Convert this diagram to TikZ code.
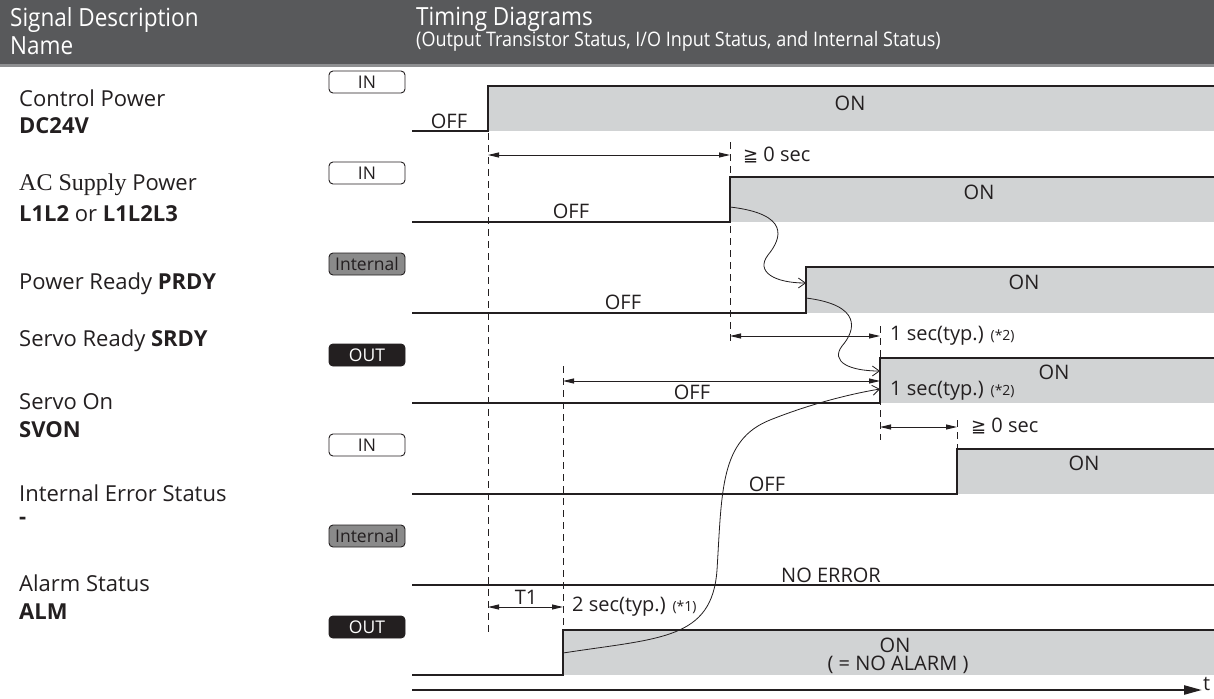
\documentclass[tikz,border=0pt]{standalone}
\usepackage{fontspec}
\setmainfont{Open Sans}
\newfontfamily\seriffam{Liberation Serif}
\newfontfamily\condfam[FakeStretch=0.9]{Open Sans}
\newfontfamily\symfam{DejaVu Sans}
\usetikzlibrary{arrows.meta}
\definecolor{hdr}{HTML}{58595B}
\definecolor{hdrline}{HTML}{8E8F91}
\definecolor{shadec}{HTML}{D1D3D4}
\definecolor{ink}{HTML}{231F20}
\definecolor{tagg}{HTML}{8A8A8A}
\begin{document}
\begin{tikzpicture}[x=1pt,y=-1pt,
  trace/.style={draw=ink,line width=2.6pt,line join=miter},
  onfill/.style={fill=shadec},
  guide/.style={draw=ink,line width=0.9pt,dash pattern=on 7pt off 5pt},
  dim/.style={draw=ink,line width=1pt,{Triangle[length=11pt,width=5pt]}-{Triangle[length=11pt,width=5pt]}},
  cause/.style={draw=ink,line width=0.8pt,-{Straight Barb[length=7pt,width=10pt]}},
  tagbase/.style={rounded corners=4pt,minimum width=76pt,minimum height=22pt,inner sep=0pt,line width=0.9pt,font=\fontsize{17.5}{18}\selectfont},
  tagin/.style={tagbase,draw=ink,fill=white,text=ink},
  tagint/.style={tagbase,draw=ink,fill=tagg,text=ink},
  tagout/.style={tagbase,draw=ink,fill=ink,text=white},
  lbl/.style={anchor=west,inner sep=0pt,text=ink,font=\fontsize{22}{24}\selectfont},
  hdrtxt/.style={anchor=west,inner sep=0pt,text=white},
  state/.style={inner sep=0pt,text=ink,font=\fontsize{20}{21}\selectfont},
  note/.style={anchor=west,inner sep=0pt,text=ink,font=\fontsize{20}{21}\selectfont}]
\useasboundingbox (0,0) rectangle (1214,698);
\fill[white] (0,0) rectangle (1214,698);
% header
\fill[hdr] (0,0) rectangle (1214,64);
\fill[hdrline] (0,64) rectangle (1214,67);
\node[hdrtxt,font=\condfam\fontsize{25}{26}\selectfont] (h1) at (10,20) {Signal Description};
\node[hdrtxt,font=\condfam\fontsize{25}{26}\selectfont] (h2) at (10,46) {Name};
\node[hdrtxt,font=\condfam\fontsize{25}{26}\selectfont] (h3) at (416,19) {Timing Diagrams};
\node[hdrtxt,font=\condfam\fontsize{20}{21}\selectfont] (h4) at (416,41) {(Output Transistor Status, I/O Input Status, and Internal Status)};
% left labels
\node[lbl] (l1) at (19,98) {Control Power};
\node[lbl] (l2) at (19,126) {\bfseries DC24V};
\node[lbl] (l3) at (19,185) {{\seriffam\fontsize{24}{26}\selectfont AC Supply} Power};
\node[lbl] (l4) at (19,214) {\bfseries L1L2 \mdseries or \bfseries L1L2L3};
\node[lbl] (l5) at (19,284) {Power Ready \bfseries PRDY};
\node[lbl] (l6) at (19,341) {Servo Ready \bfseries SRDY};
\node[lbl] (l7) at (19,402) {Servo On};
\node[lbl] (l8) at (19,430) {\bfseries SVON};
\node[lbl] (l9) at (19,493) {Internal Error Status};
\node[lbl] (l10) at (19,521) {\bfseries -};
\node[lbl] (l11) at (19,583) {Alarm Status};
\node[lbl] (l12) at (19,612) {\bfseries ALM};
% tags
\node[tagin] (t1) at (367,82) {IN};
\node[tagin] (t2) at (367,173) {IN};
\node[tagint] (t3) at (367,264) {Internal};
\node[tagout] (t4) at (367,355) {OUT};
\node[tagin] (t5) at (367,445) {IN};
\node[tagint] (t6) at (367,536) {Internal};
\node[tagout] (t7) at (367,627) {OUT};
% shaded ON regions
\fill[onfill] (488,86) rectangle (1214,131);
\fill[onfill] (730,177) rectangle (1214,222);
\fill[onfill] (806,267) rectangle (1214,313);
\fill[onfill] (880,358) rectangle (1214,403);
\fill[onfill] (957,449) rectangle (1214,494);
\fill[onfill] (563,630) rectangle (1214,675);
% guide lines
\draw[guide] (488,133) -- (488,632);
\draw[guide] (730,142) -- (730,345);
\draw[guide] (563,366) -- (563,630);
\draw[guide] (880,326) -- (880,440);
\draw[guide] (957,420) -- (957,449);
% traces
\draw[trace] (412,131) -- (488,131) -- (488,86) -- (1214,86);
\draw[trace] (412,222) -- (730,222) -- (730,177) -- (1214,177);
\draw[trace] (412,313) -- (806,313) -- (806,267) -- (1214,267);
\draw[trace] (412,403) -- (880,403) -- (880,358) -- (1214,358);
\draw[trace] (412,494) -- (957,494) -- (957,449) -- (1214,449);
\draw[trace] (412,585) -- (1214,585);
\draw[trace] (412,675) -- (563,675) -- (563,630) -- (1214,630);
% state labels
\node[state] (s1) at (449,121) {OFF};
\node[state] (s2) at (850,103) {ON};
\node[state] (s3) at (571,211) {OFF};
\node[state] (s4) at (979,192) {ON};
\node[state] (s5) at (623,302) {OFF};
\node[state] (s6) at (1024,282) {ON};
\node[state] (s7) at (692,392) {OFF};
\node[state] (s8) at (1054,372) {ON};
\node[state] (s9) at (767,484) {OFF};
\node[state] (s10) at (1084,463) {ON};
\node[state] (s11) at (831,575) {NO ERROR};
\node[state] (s12) at (895,645) {ON};
\node[state] (s13) at (898,665) {( = NO ALARM )};
% dimension coordinates
\coordinate (a1) at (488,155); \coordinate (a2) at (730,155);
\coordinate (b1) at (730,336); \coordinate (b2) at (880,336);
\coordinate (c1) at (563,381); \coordinate (c2) at (880,381);
\coordinate (d1) at (880,427); \coordinate (d2) at (957,427);
\coordinate (e1) at (488,607); \coordinate (e2) at (563,607);
\draw[dim] (a1) -- (a2);
\draw[dim] (b1) -- (b2);
\draw[dim] (c1) -- (c2);
\draw[dim] (d1) -- (d2);
\draw[dim] (e1) -- (e2);
\node[note] (n1) at (743,155) {{\symfam\fontsize{18}{19}\selectfont ≧} 0 sec};
\node[note] (n2) at (890,336) {1 sec(typ.) {\fontsize{14}{15}\selectfont (*2)}};
\node[note] (n3) at (890,391) {1 sec(typ.) {\fontsize{14}{15}\selectfont (*2)}};
\node[note] (n4) at (971,426) {{\symfam\fontsize{18}{19}\selectfont ≧} 0 sec};
\node[state,anchor=south] (n5) at (526,605) {T1};
\node[note] (n6) at (572,607) {2 sec(typ.) {\fontsize{14}{15}\selectfont (*1)}};
% causal curves
\coordinate (ca1) at (730,207); \coordinate (ca2) at (806,283);
\coordinate (cb1) at (806,298); \coordinate (cb2) at (880,371);
\coordinate (cd1) at (563,653); \coordinate (cd2) at (880,389);
\draw[cause] (ca1) .. controls (790,214) and (782,238) .. (768,255) .. controls (755,272) and (775,283) .. (ca2);
\draw[cause] (cb1) .. controls (862,305) and (856,330) .. (842,346) .. controls (830,362) and (850,371) .. (cb2);
\draw[cause] (cd1) .. controls (660,638) and (712,640) .. (717,570) .. controls (722,490) and (720,440) .. (770,420) .. controls (810,404) and (850,394) .. (cd2);
% time axis
\coordinate (ax1) at (412,690); \coordinate (ax2) at (1202,690);
\draw[draw=ink,line width=2.4pt,-{Triangle[length=18pt,width=9pt]}] (ax1) -- (ax2);
\node[state,anchor=west] (tt) at (1203,684) {t};
\end{tikzpicture}
\end{document}
